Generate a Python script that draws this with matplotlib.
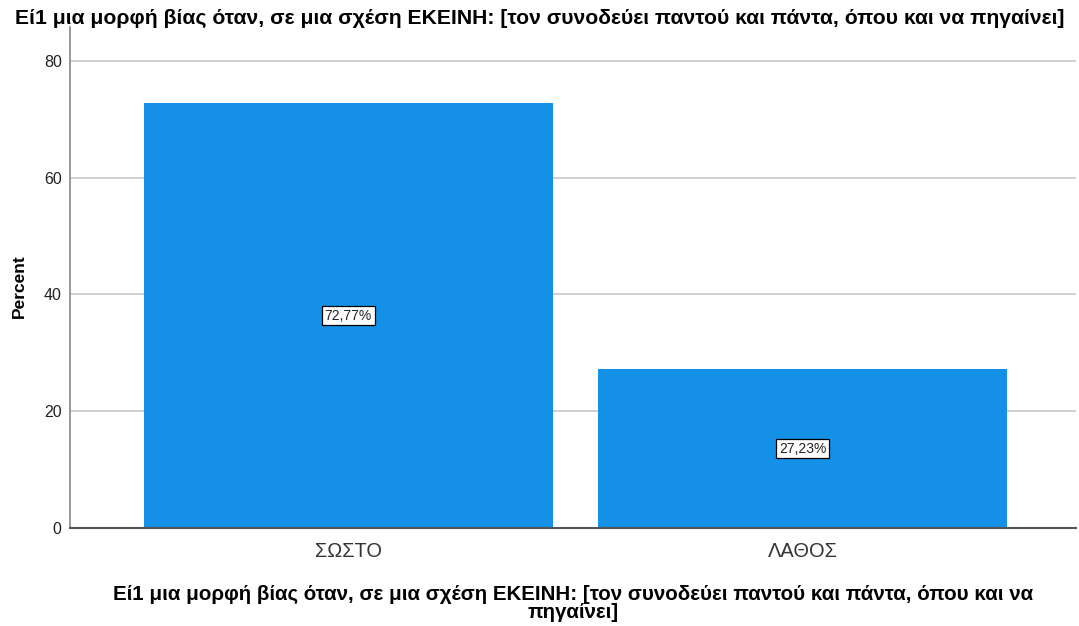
import matplotlib.pyplot as plt

plt.rcParams['font.family'] = ['Liberation Sans', 'DejaVu Sans']

categories = ['ΣΩΣΤΟ', 'ΛΑΘΟΣ']
percents = [72.77, 27.23]
labels = ['72,77%', '27,23%']
yticks = [0, 20, 40, 60, 80]

title = 'Εί1 μια μορφή βίας όταν, σε μια σχέση ΕΚΕΙΝΗ: [τον συνοδεύει παντού και πάντα, όπου και να πηγαίνει]'
xlabel = 'Εί1 μια μορφή βίας όταν, σε μια σχέση ΕΚΕΙΝΗ: [τον συνοδεύει παντού και πάντα, όπου και να\nπηγαίνει]'

fig = plt.figure(figsize=(10.79, 6.26), dpi=100)
ax = fig.add_axes([0.0649, 0.1565, 0.932, 0.8004])

x = range(len(categories))
bars = ax.bar(x, percents, width=0.9, color='#1491e6', zorder=2)

# value boxes in the middle of each bar
for b, lab in zip(bars, labels):
    ax.text(b.get_x() + b.get_width() / 2, b.get_height() / 2, lab,
            ha='center', va='center', fontsize=10, color='#222222', zorder=3,
            bbox=dict(boxstyle='square,pad=0.2', facecolor='white', edgecolor='black', linewidth=0.9))

ax.set_xlim(-0.612, 1.6)
ax.set_ylim(0, 85.8)
ax.set_yticks(yticks)
ax.set_xticks(list(x))
ax.set_xticklabels(categories, fontsize=14.4, color='#333333')
ax.tick_params(axis='y', length=0, labelsize=11.5, pad=6, colors='#222222')
ax.tick_params(axis='x', length=0, pad=10)

for yv in yticks[1:]:
    ax.axhline(yv, color='#c8c8c8', linewidth=1.2, zorder=1)

for s in ['top', 'right']:
    ax.spines[s].set_visible(False)
ax.spines['left'].set_color('#888888')
ax.spines['bottom'].set_color('#555555')
ax.spines['left'].set_linewidth(1.2)
ax.spines['bottom'].set_linewidth(1.5)

ax.set_ylabel('Percent', fontsize=12.5, fontweight='bold')
ax.yaxis.set_label_coords(-0.043, 0.483)
ax.set_xlabel(xlabel, fontsize=14.8, fontweight='bold', labelpad=17, linespacing=0.95)
fig.text(0.5, 0.971, title, ha='center', va='center', fontsize=15.2, fontweight='bold')

fig.savefig('out.png', dpi=100)
